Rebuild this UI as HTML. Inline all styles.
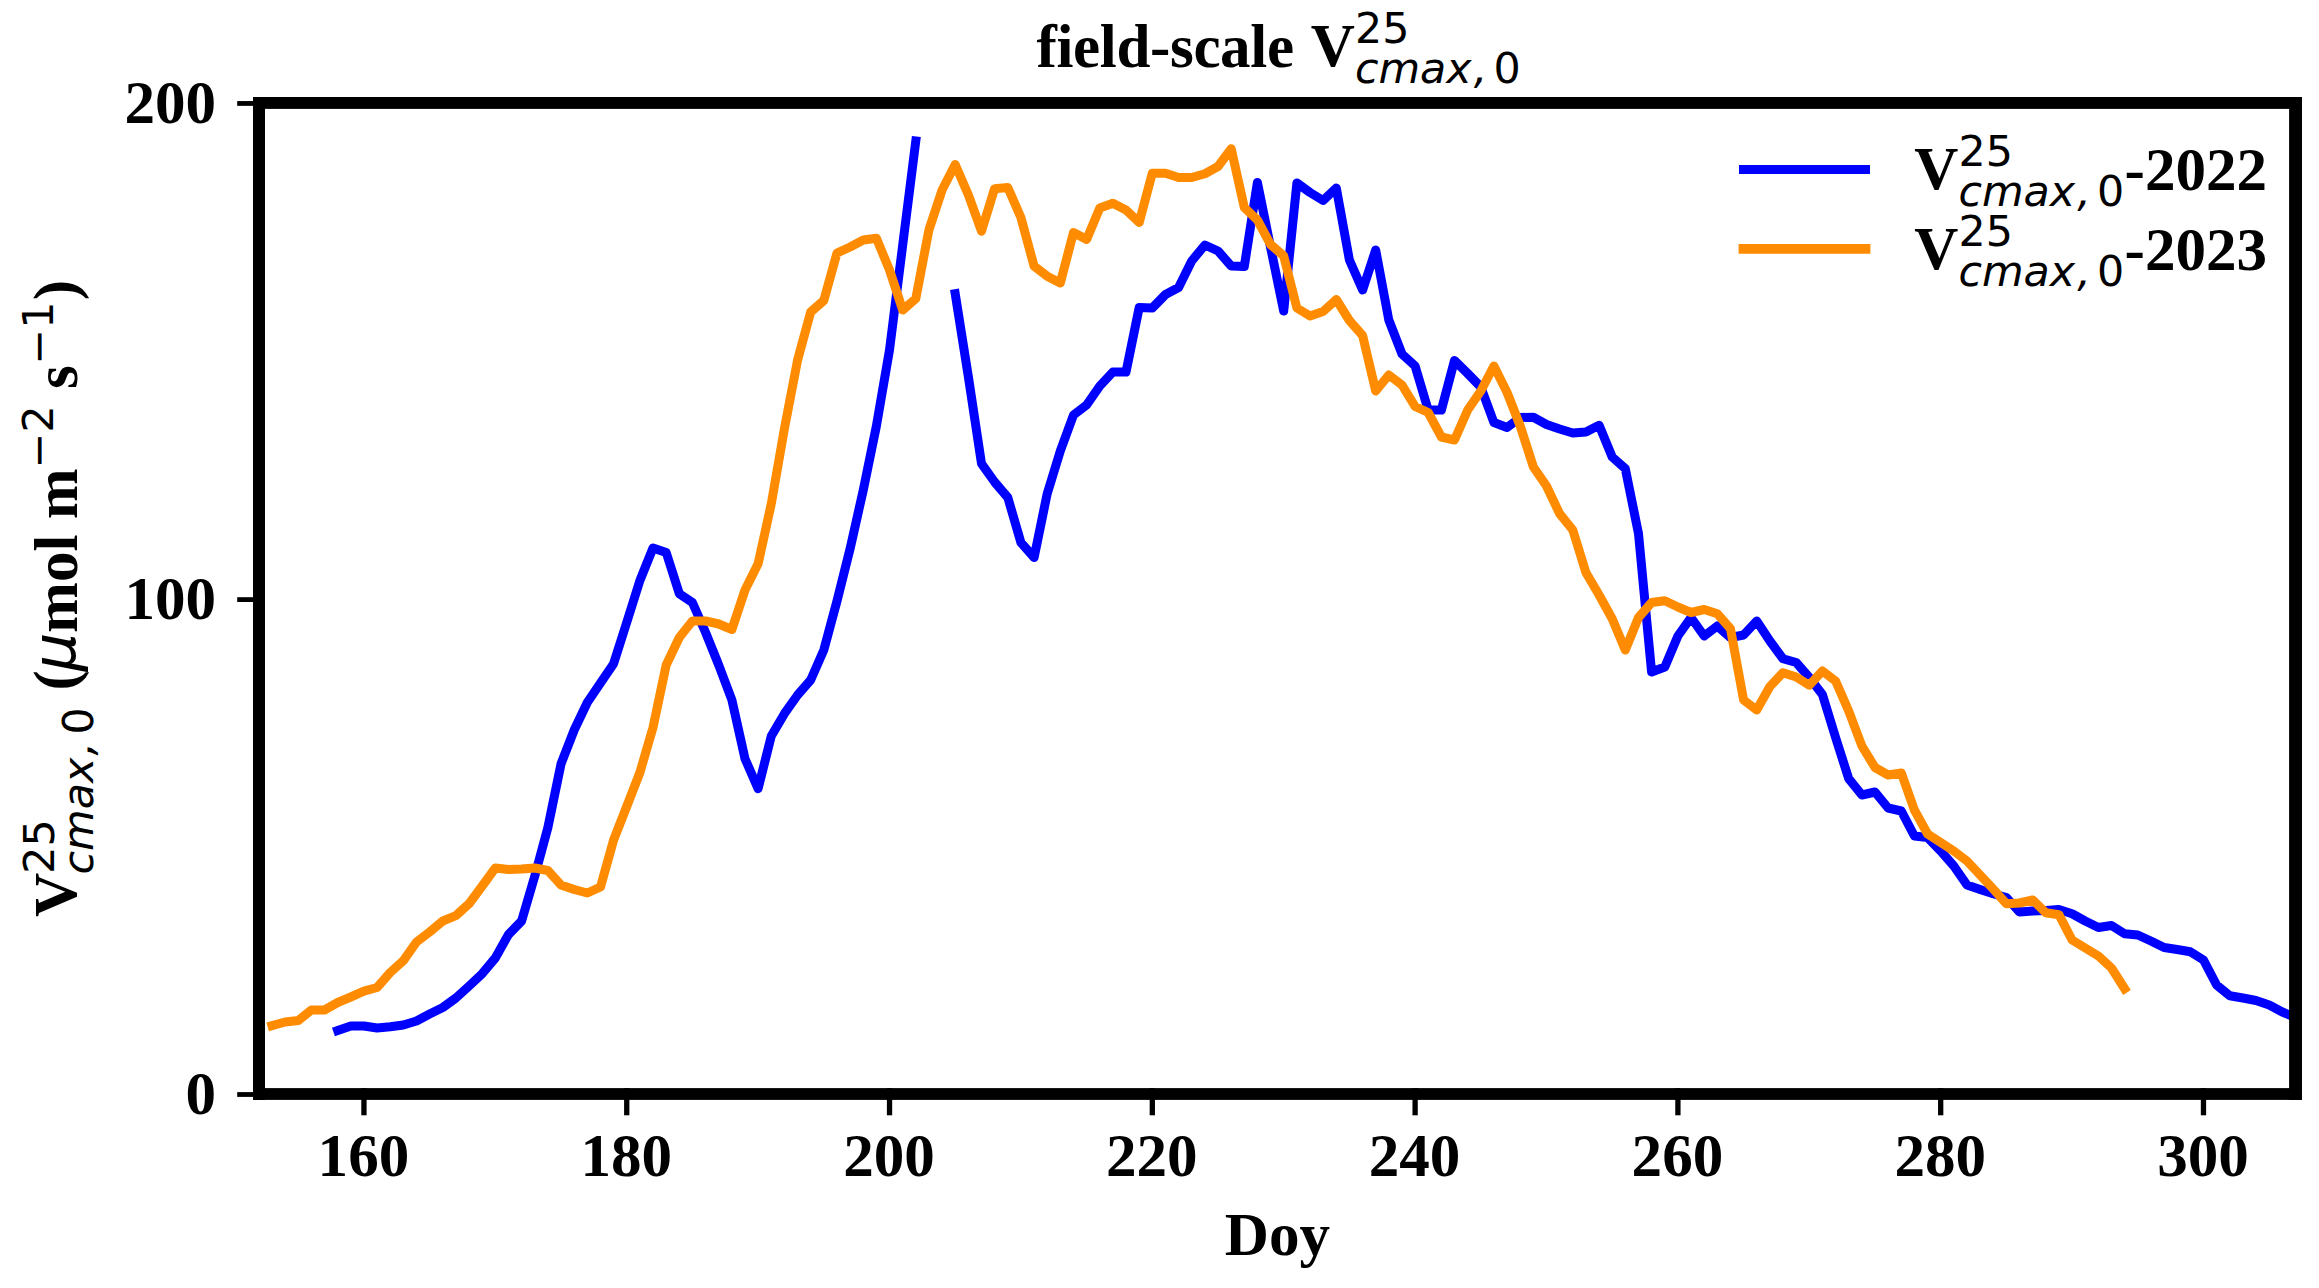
<!DOCTYPE html>
<html lang="en">
<head>
<meta charset="utf-8">
<title>field-scale Vcmax</title>
<style>
html,body{margin:0;padding:0;background:#fff;}
body{width:2319px;height:1288px;overflow:hidden;}
svg{display:block;}
.tb{font-family:"Liberation Serif", serif;font-weight:bold;font-size:61.1px;fill:#000;}
.ms{font-family:"DejaVu Sans", "Liberation Sans", sans-serif;font-size:42.77px;fill:#000;}
.mi{font-family:"DejaVu Sans", "Liberation Sans", sans-serif;font-style:italic;font-size:42.77px;fill:#000;}
.mu{font-family:"DejaVu Sans", "Liberation Sans", sans-serif;font-style:italic;font-size:61.1px;fill:#000;}
.ln{fill:none;stroke-width:9;stroke-linejoin:round;stroke-linecap:square;}
</style>
</head>
<body>
<svg width="2319" height="1288" viewBox="0 0 2319 1288">
<rect x="0" y="0" width="2319" height="1288" fill="#ffffff"/>
<defs><clipPath id="ax"><rect x="259.0" y="103.0" width="2036.5" height="991.0"/></clipPath></defs>
<g clip-path="url(#ax)">
<polyline class="ln" stroke="#0000ff" points="337.7,1030.5 350.8,1026.0 363.9,1026.0 377.1,1028.0 390.2,1026.7 403.4,1025.0 416.5,1021.0 429.6,1014.0 442.8,1007.5 455.9,998.0 469.1,986.0 482.2,973.7 495.3,958.0 508.5,934.5 521.6,921.0 534.8,876.0 547.9,827.5 561.0,764.0 574.2,730.0 587.3,702.5 600.5,683.0 613.6,663.7 626.7,622.5 639.9,580.5 653.0,548.0 666.2,552.5 679.3,593.7 692.4,602.5 705.6,632.5 718.7,665.0 731.9,700.0 745.0,758.7 758.1,788.7 771.3,736.0 784.4,713.7 797.6,695.0 810.7,680.0 823.8,650.0 837.0,601.0 850.1,548.7 863.3,490.0 876.4,426.0 889.5,350.0 902.7,245.0 915.8,141.0"/>
<polyline class="ln" stroke="#0000ff" points="955.2,293.7 968.4,377.0 981.5,463.7 994.6,482.0 1007.8,497.5 1020.9,542.5 1034.1,557.5 1047.2,493.7 1060.3,451.0 1073.5,415.0 1086.6,405.0 1099.8,386.0 1112.9,372.0 1126.0,372.0 1139.2,307.5 1152.3,308.0 1165.5,294.5 1178.6,287.5 1191.7,261.0 1204.9,245.0 1218.0,251.0 1231.2,266.0 1244.3,266.5 1257.4,182.5 1270.6,247.5 1283.7,311.0 1296.9,183.0 1310.0,192.5 1323.1,200.5 1336.3,188.0 1349.4,260.0 1362.6,290.0 1375.7,250.0 1388.8,320.0 1402.0,354.0 1415.1,366.0 1428.2,410.0 1441.4,410.0 1454.5,360.5 1467.7,373.5 1480.8,387.0 1493.9,422.5 1507.1,427.5 1520.2,417.5 1533.4,417.2 1546.5,424.5 1559.6,429.0 1572.8,433.0 1585.9,432.0 1599.1,425.2 1612.2,457.0 1625.3,468.7 1638.5,533.7 1651.6,672.0 1664.8,667.0 1677.9,636.0 1691.0,617.5 1704.2,636.0 1717.3,626.0 1730.5,637.5 1743.6,635.0 1756.7,621.0 1769.9,641.0 1783.0,658.7 1796.2,662.5 1809.3,677.5 1822.4,694.5 1835.6,737.5 1848.7,778.7 1861.9,795.0 1875.0,792.0 1888.1,808.0 1901.3,811.0 1914.4,836.0 1927.6,837.5 1940.7,851.0 1953.8,866.0 1967.0,885.0 1980.1,889.5 1993.2,893.7 2006.4,897.5 2019.5,912.0 2032.7,911.0 2045.8,910.5 2058.9,909.5 2072.1,913.7 2085.2,921.0 2098.4,927.5 2111.5,925.5 2124.6,933.7 2137.8,935.0 2150.9,941.0 2164.1,947.5 2177.2,949.5 2190.3,951.7 2203.5,960.0 2216.6,985.0 2229.8,995.7 2242.9,998.0 2256.0,1000.5 2269.2,1005.0 2282.3,1012.0 2295.5,1017.5"/>
<polyline class="ln" stroke="#ff8c00" points="272.0,1025.7 285.1,1022.0 298.3,1020.5 311.4,1010.0 324.5,1010.0 337.7,1002.5 350.8,997.0 363.9,991.2 377.1,987.5 390.2,972.5 403.4,960.7 416.5,942.0 429.6,932.0 442.8,921.0 455.9,915.7 469.1,903.7 482.2,886.0 495.3,868.0 508.5,869.5 521.6,869.0 534.8,868.0 547.9,870.5 561.0,885.0 574.2,889.5 587.3,893.0 600.5,887.0 613.6,840.0 626.7,806.5 639.9,772.5 653.0,727.5 666.2,665.0 679.3,637.5 692.4,621.0 705.6,621.0 718.7,624.0 731.9,629.5 745.0,590.0 758.1,563.7 771.3,503.7 784.4,428.7 797.6,360.0 810.7,312.0 823.8,300.5 837.0,253.0 850.1,247.0 863.3,240.0 876.4,238.2 889.5,270.0 902.7,310.0 915.8,298.7 928.9,230.0 942.1,190.0 955.2,164.5 968.4,195.0 981.5,231.2 994.6,188.7 1007.8,187.5 1020.9,217.5 1034.1,266.2 1047.2,276.2 1060.3,283.0 1073.5,232.5 1086.6,239.5 1099.8,208.0 1112.9,203.2 1126.0,210.0 1139.2,222.5 1152.3,173.2 1165.5,173.2 1178.6,177.5 1191.7,177.5 1204.9,173.7 1218.0,166.5 1231.2,148.7 1244.3,207.5 1257.4,220.0 1270.6,244.5 1283.7,256.0 1296.9,308.0 1310.0,316.0 1323.1,311.5 1336.3,299.5 1349.4,320.5 1362.6,335.5 1375.7,391.0 1388.8,375.0 1402.0,385.0 1415.1,406.5 1428.2,412.5 1441.4,437.0 1454.5,440.0 1467.7,410.0 1480.8,391.0 1493.9,366.0 1507.1,392.5 1520.2,426.0 1533.4,467.0 1546.5,486.0 1559.6,513.7 1572.8,530.0 1585.9,572.5 1599.1,595.0 1612.2,618.7 1625.3,650.0 1638.5,617.5 1651.6,602.5 1664.8,600.7 1677.9,607.0 1691.0,612.5 1704.2,609.5 1717.3,613.7 1730.5,628.7 1743.6,700.0 1756.7,710.0 1769.9,686.5 1783.0,672.7 1796.2,677.0 1809.3,685.2 1822.4,671.0 1835.6,681.0 1848.7,711.0 1861.9,746.0 1875.0,767.5 1888.1,775.0 1901.3,773.0 1914.4,810.0 1927.6,834.0 1940.7,842.5 1953.8,851.0 1967.0,861.0 1980.1,875.0 1993.2,889.0 2006.4,903.7 2019.5,903.0 2032.7,900.0 2045.8,912.7 2058.9,914.7 2072.1,940.0 2085.2,948.0 2098.4,956.0 2111.5,968.0 2124.6,988.7"/>
</g>

<g fill="#000">
<rect x="361.30" y="1088.1" width="5.3" height="27.2"/>
<rect x="624.09" y="1088.1" width="5.3" height="27.2"/>
<rect x="886.88" y="1088.1" width="5.3" height="27.2"/>
<rect x="1149.67" y="1088.1" width="5.3" height="27.2"/>
<rect x="1412.46" y="1088.1" width="5.3" height="27.2"/>
<rect x="1675.25" y="1088.1" width="5.3" height="27.2"/>
<rect x="1938.04" y="1088.1" width="5.3" height="27.2"/>
<rect x="2200.83" y="1088.1" width="5.3" height="27.2"/>
<rect x="237.2" y="1092.10" width="17.8" height="4.8"/>
<rect x="237.2" y="597.20" width="17.8" height="4.8"/>
<rect x="237.2" y="101.05" width="17.8" height="4.8"/>
<rect x="253.0" y="97.0" width="12.0" height="1002.9"/>
<rect x="2289.1" y="97.0" width="12.9" height="1002.9"/>
<rect x="253.0" y="97.0" width="2049.0" height="11.9"/>
<rect x="253.0" y="1088.1" width="2049.0" height="11.8"/>
</g>
<text x="363.4" y="1176.4" text-anchor="middle" class="tb">160</text>
<text x="626.2" y="1176.4" text-anchor="middle" class="tb">180</text>
<text x="889.0" y="1176.4" text-anchor="middle" class="tb">200</text>
<text x="1151.8" y="1176.4" text-anchor="middle" class="tb">220</text>
<text x="1414.6" y="1176.4" text-anchor="middle" class="tb">240</text>
<text x="1677.4" y="1176.4" text-anchor="middle" class="tb">260</text>
<text x="1940.2" y="1176.4" text-anchor="middle" class="tb">280</text>
<text x="2203.0" y="1176.4" text-anchor="middle" class="tb">300</text>
<text x="216.1" y="1113.85" text-anchor="end" class="tb">0</text>
<text x="216.1" y="619.05" text-anchor="end" class="tb">100</text>
<text x="216.1" y="123.15" text-anchor="end" class="tb">200</text>
<text x="1277.4" y="1254.8" text-anchor="middle" class="tb">Doy</text>
<text x="1036.5" y="66.9" class="tb" textLength="257.5" lengthAdjust="spacing">field-scale</text>
<text x="1310.8" y="66.4" class="tb">V</text><text x="1355.1" y="43.1" class="ms">25</text><text x="1354.9" y="83.4" class="mi">cmax</text><text x="1473.8" y="83.4" class="mi">,</text><text x="1493.4" y="83.4" class="ms">0</text>
<line x1="1743.5" y1="169.47" x2="1865.5" y2="169.47" class="ln" stroke="#0000ff"/>
<line x1="1743.5" y1="248.95" x2="1865.5" y2="248.95" class="ln" stroke="#ff8c00" style="stroke-width:9.8"/>
<text x="1914.3" y="189.4" class="tb">V</text><text x="1958.6" y="166.1" class="ms">25</text><text x="1958.4" y="206.4" class="mi">cmax</text><text x="2077.3" y="206.4" class="mi">,</text><text x="2096.9" y="206.4" class="ms">0</text>
<text x="2124.6" y="189.5" class="tb">-2022</text>
<text x="1914.3" y="269.3" class="tb">V</text><text x="1958.6" y="246.0" class="ms">25</text><text x="1958.4" y="286.3" class="mi">cmax</text><text x="2077.3" y="286.3" class="mi">,</text><text x="2096.9" y="286.3" class="ms">0</text>
<text x="2124.6" y="269.9" class="tb">-2023</text>
<g transform="translate(76.5,917.1) rotate(-90)"><text x="0.0" y="-1.0" class="tb">V</text><text x="43.3" y="-23.0" class="ms">25</text><text x="42.7" y="16.6" class="mi">cmax</text><text x="161.6" y="16.6" class="mi">,</text><text x="182.6" y="16.6" class="ms">0</text><text x="226.7" y="-1" class="tb">(</text><text x="245.6" y="-2" class="mu">μ</text><text x="284.2" y="0" class="tb">mol m</text><text x="448.9" y="-23.4" class="ms">−2</text><text x="528.2" y="0" class="tb">s</text><text x="552.5" y="-23.4" class="ms">−1</text><text x="616.9" y="-1" class="tb">)</text></g>
</svg>
</body>
</html>
